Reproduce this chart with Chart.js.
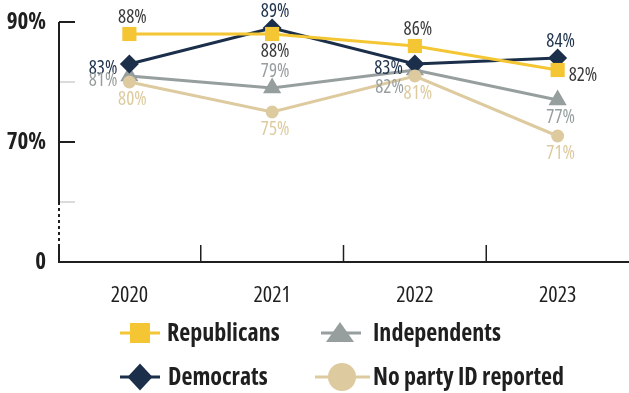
<!DOCTYPE html>
<html>
<head>
<meta charset="utf-8">
<script src="https://cdn.jsdelivr.net/npm/chart.js@4.4.1/dist/chart.umd.min.js"></script>
<style>
	html, body { margin: 0; padding: 0; background: #fff; }
	#wrap { width: 629px; height: 393px; position: relative; }
</style>
</head>
<body>
<div id="wrap"><canvas id="chart"></canvas></div>
<script>
const years = ['2020', '2021', '2022', '2023'];
const republicans = [88, 88, 86, 82];
const democrats = [83, 89, 83, 84];
const independents = [81, 79, 82, 77];
const noPartyId = [80, 75, 81, 71];

// the axis is broken below 60%, its bottom (50 on the scale) is labelled "0"
const yTicks = [50, 70, 90];
const yTickLabels = { 50: '0', 70: '70%', 90: '90%' };
const yMinorTicks = [60, 80];

// where each value label sits relative to its point
const repLabelPos = ['top', 'bottom', 'top', 'right'];
const demLabelPos = ['left', 'top', 'left', 'top'];
const indLabelPos = ['left', 'top', 'bottomleft', 'bottom'];
const noneLabelPos = ['bottom', 'bottom', 'bottom', 'bottom'];

const FONT = '"Open Sans", "Noto Sans", sans-serif';
const INK = '#1f1f1f';

const COLORS = {
	rep: '#F4C633',
	dem: '#1B2F4A',
	ind: '#979E9E',
	none: '#DDCB9F'
};

// order: lower draws on top (Republicans over everything, Independents underneath)
const datasets = [
	{ label: 'Republicans', data: republicans, color: COLORS.rep, textColor: '#3a3a3a', pointStyle: 'rect', radius: 10, labelPos: repLabelPos, order: 1 },
	{ label: 'Democrats', data: democrats, color: COLORS.dem, textColor: '#22354F', pointStyle: 'rectRot', radius: 9.5, labelPos: demLabelPos, order: 3 },
	{ label: 'Independents', data: independents, color: COLORS.ind, textColor: COLORS.ind, pointStyle: 'triangle', radius: 10.5, labelPos: indLabelPos, order: 4 },
	{ label: 'No party ID reported', data: noPartyId, color: COLORS.none, textColor: COLORS.none, pointStyle: 'circle', radius: 6.5, labelPos: noneLabelPos, order: 2 }
].map(d => ({
	label: d.label,
	data: d.data,
	borderColor: d.color,
	backgroundColor: d.color,
	pointBackgroundColor: d.color,
	pointBorderColor: d.color,
	pointBorderWidth: 0,
	pointStyle: d.pointStyle,
	pointRadius: d.radius,
	pointHoverRadius: d.radius,
	borderWidth: 3,
	tension: 0,
	fill: false,
	clip: false,
	order: d.order,
	textColor: d.textColor,
	labelPos: d.labelPos
}));

// condensed text: Chart.js font options can't set font-stretch, so draw it here
function setFont(ctx, size, weight) {
	ctx.font = (weight || 'normal') + ' ' + size + 'px ' + FONT;
	ctx.fontStretch = 'extra-condensed';
}

// axis lines, broken y axis, tick marks and tick labels
const axisPlugin = {
	id: 'axisPlugin',
	beforeDatasetsDraw(chart) {
		const { ctx, chartArea } = chart;
		const y = chart.scales.y;
		const x = chart.scales.x;
		const ax = chartArea.left + 1;
		ctx.save();
		ctx.lineWidth = 2;
		ctx.strokeStyle = INK;

		ctx.beginPath();
		ctx.moveTo(ax, y.getPixelForValue(90));
		ctx.lineTo(ax, y.getPixelForValue(60));
		ctx.stroke();

		ctx.setLineDash([3, 3]);
		ctx.beginPath();
		ctx.moveTo(ax, y.getPixelForValue(60));
		ctx.lineTo(ax, y.getPixelForValue(52.5));
		ctx.stroke();
		ctx.setLineDash([]);

		ctx.beginPath();
		ctx.moveTo(ax, y.getPixelForValue(52.5));
		ctx.lineTo(ax, chartArea.bottom);
		ctx.lineTo(chartArea.right, chartArea.bottom);
		ctx.stroke();

		yTicks.forEach(v => {
			const py = y.getPixelForValue(v);
			ctx.beginPath();
			ctx.moveTo(ax, py);
			ctx.lineTo(ax + 16, py);
			ctx.stroke();
		});

		ctx.strokeStyle = '#cfcfcf';
		ctx.lineWidth = 1.5;
		yMinorTicks.forEach(v => {
			const py = y.getPixelForValue(v);
			ctx.beginPath();
			ctx.moveTo(ax + 1, py);
			ctx.lineTo(ax + 16, py);
			ctx.stroke();
		});

		ctx.strokeStyle = INK;
		ctx.lineWidth = 1.5;
		for (let i = 1; i < years.length; i++) {
			const px = (x.getPixelForValue(i - 1) + x.getPixelForValue(i)) / 2;
			ctx.beginPath();
			ctx.moveTo(px, chartArea.bottom);
			ctx.lineTo(px, chartArea.bottom - 17);
			ctx.stroke();
		}

		ctx.fillStyle = INK;
		ctx.textBaseline = 'middle';
		setFont(ctx, 23, 'bold');
		ctx.textAlign = 'right';
		yTicks.forEach(v => ctx.fillText(yTickLabels[v], 46, y.getPixelForValue(v)));

		setFont(ctx, 22, 'normal');
		ctx.textAlign = 'center';
		years.forEach((yr, i) => ctx.fillText(yr, x.getPixelForValue(i), 296));
		ctx.restore();
	}
};

// value labels next to each point
const valueLabels = {
	id: 'valueLabels',
	afterDatasetsDraw(chart) {
		const { ctx } = chart;
		ctx.save();
		setFont(ctx, 19, 'normal');
		chart.data.datasets.forEach((ds, i) => {
			const meta = chart.getDatasetMeta(i);
			meta.data.forEach((pt, j) => {
				const pos = ds.labelPos[j];
				let dx = 3, dy = 0, align = 'center';
				if (pos === 'top') dy = -16;
				else if (pos === 'bottom') dy = 18;
				else if (pos === 'left') { dx = -12; dy = 5; align = 'right'; }
				else if (pos === 'bottomleft') { dx = -11; dy = 18; align = 'right'; }
				else if (pos === 'right') { dx = 11; dy = 6; align = 'left'; }
				ctx.fillStyle = ds.textColor;
				ctx.textAlign = align;
				ctx.textBaseline = 'middle';
				ctx.fillText(ds.data[j] + '%', pt.x + dx, pt.y + dy);
			});
		});
		ctx.restore();
	}
};

// two-by-two legend with line + marker swatches
const legendPlugin = {
	id: 'legendPlugin',
	afterDraw(chart) {
		const { ctx } = chart;
		const items = [
			{ ds: 0, lineX: [120, 160], mx: 140, tx: 167, y: 333, shape: 'square' },
			{ ds: 2, lineX: [321, 361], mx: 340, tx: 373, y: 333, shape: 'triangle' },
			{ ds: 1, lineX: [120, 160], mx: 140, tx: 168, y: 377, shape: 'diamond' },
			{ ds: 3, lineX: [315, 370], mx: 342, tx: 373, y: 377, shape: 'circle' }
		];
		ctx.save();
		items.forEach(it => {
			const ds = chart.data.datasets[it.ds];
			ctx.strokeStyle = ds.borderColor;
			ctx.fillStyle = ds.borderColor;
			ctx.lineWidth = 3;
			ctx.beginPath();
			ctx.moveTo(it.lineX[0], it.y);
			ctx.lineTo(it.lineX[1], it.y);
			ctx.stroke();
			ctx.beginPath();
			if (it.shape === 'square') {
				ctx.rect(it.mx - 10, it.y - 10, 20, 20);
			} else if (it.shape === 'triangle') {
				ctx.moveTo(it.mx, it.y - 11);
				ctx.lineTo(it.mx + 14, it.y + 9);
				ctx.lineTo(it.mx - 14, it.y + 9);
				ctx.closePath();
			} else if (it.shape === 'diamond') {
				ctx.moveTo(it.mx, it.y - 13.5);
				ctx.lineTo(it.mx + 12.5, it.y);
				ctx.lineTo(it.mx, it.y + 13.5);
				ctx.lineTo(it.mx - 12.5, it.y);
				ctx.closePath();
			} else {
				ctx.arc(it.mx, it.y, 14, 0, Math.PI * 2);
			}
			ctx.fill();
			ctx.fillStyle = INK;
			setFont(ctx, 24, 'bold');
			ctx.textAlign = 'left';
			ctx.textBaseline = 'middle';
			ctx.fillText(ds.label, it.tx, it.y + 1);
		});
		ctx.restore();
	}
};

new Chart(document.getElementById('chart'), {
	type: 'line',
	data: { labels: years, datasets: datasets },
	options: {
		responsive: true,
		maintainAspectRatio: false,
		animation: false,
		layout: { autoPadding: false, padding: { top: 22, left: 0, right: 0, bottom: 0 } },
		plugins: {
			legend: { display: false },
			tooltip: { enabled: false }
		},
		scales: {
			x: {
				offset: true,
				grid: { display: false },
				border: { display: false },
				ticks: { display: false },
				afterFit(scale) { scale.height = 131; }
			},
			y: {
				min: 50,
				max: 90,
				grid: { display: false },
				border: { display: false },
				ticks: { display: false },
				afterBuildTicks(scale) { scale.ticks = yTicks.map(v => ({ value: v })); },
				afterFit(scale) { scale.width = 58; }
			}
		}
	},
	plugins: [axisPlugin, valueLabels, legendPlugin]
});
</script>
</body>
</html>
